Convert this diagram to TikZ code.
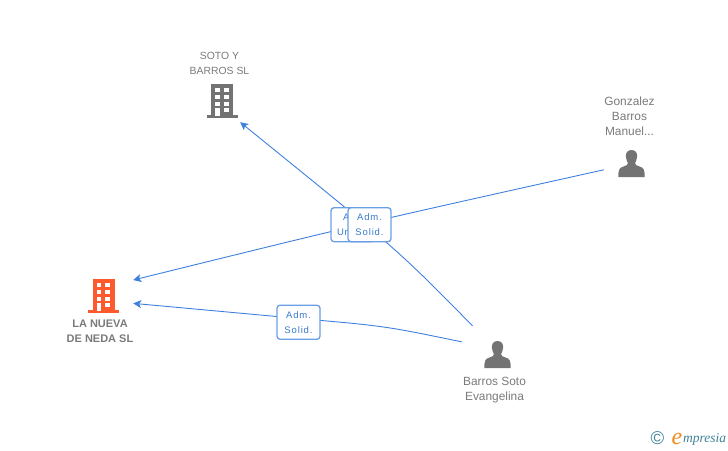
\documentclass[tikz,border=0pt]{standalone}
\usepackage{fontspec}
\setmainfont{Liberation Sans}
\newfontfamily\logofont{Liberation Serif}
\usetikzlibrary{arrows.meta}
\definecolor{linkblue}{HTML}{3F80DE}
\definecolor{boxblue}{HTML}{6A9FE6}
\definecolor{labelblue}{HTML}{3A78CC}
\definecolor{icongray}{HTML}{737373}
\definecolor{namegray}{HTML}{7A7A7A}
\definecolor{firmorange}{HTML}{FF5A2D}
\definecolor{logoteal}{HTML}{3F8299}
\definecolor{logoorange}{HTML}{F08A1D}
\tikzset{
  linkline/.style={draw=linkblue,line width=0.9pt},
  linkarrow/.style={linkline,-{Stealth[length=8pt,width=8pt,inset=2pt]}},
  rolebox/.style={draw=boxblue,line width=1.3pt,rounded corners=3pt,fill=white,
    minimum width=43pt,minimum height=34pt,inner sep=0pt,align=center,text=labelblue,
    font=\fontsize{9.5}{15}\selectfont\addfontfeature{LetterSpace=9}},
  firmname/.style={text=namegray,align=center,inner sep=0pt,font=\fontsize{10.4}{15}\selectfont},
  mainname/.style={firmname,font=\fontsize{11}{15}\selectfont\bfseries},
  personname/.style={firmname,font=\fontsize{11.9}{15}\selectfont},
  iconbox/.style={inner sep=0pt,minimum width=#1},
}
% building icon: centre x, top y, colour
\newcommand\DrawBuilding[3]{
  \begin{scope}[shift={(#1,#2)}]
    \fill[#3] (-11,0) rectangle (11,31);
    \fill[#3] (-15.5,31) rectangle (15.5,33.5);
    \foreach \wy in {4.3,11,17.7,24.3}{
      \fill[white] (1.5,\wy) rectangle (6.5,\wy+4);
    }
    \foreach \wy in {4.3,11,17.7}{
      \fill[white] (-7,\wy) rectangle (-2.5,\wy+4);
    }
    \fill[white] (-7,24.3) rectangle (-2.5,32);
  \end{scope}
}
% person icon: centre x, top y
\newcommand\DrawPerson[2]{
  \begin{scope}[shift={(#1,#2)}]
    \fill[icongray] (0,0) .. controls (4,0) and (6,3) .. (5.6,7)
      .. controls (5.3,10) and (4,12) .. (3.6,13) .. controls (3.6,15) and (5,15.5) .. (8,16.5)
      .. controls (12,17.8) and (13.2,19) .. (13.2,27) -- (-13.2,27)
      .. controls (-13.2,19) and (-12,17.8) .. (-8,16.5) .. controls (-5,15.5) and (-3.6,15) .. (-3.6,13)
      .. controls (-4,12) and (-5.3,10) .. (-5.6,7) .. controls (-6,3) and (-4,0) .. (0,0) -- cycle;
  \end{scope}
}
\begin{document}
\begin{tikzpicture}[x=1pt,y=-1pt]
\useasboundingbox (0,0) rectangle (728,450);

%% icons
\DrawBuilding{222}{84}{icongray}
\DrawBuilding{103.5}{279}{firmorange}
\DrawPerson{631.5}{150}
\DrawPerson{497.5}{341}

%% nodes round the icons, the links stop at their borders
\node[iconbox=36pt,minimum height=44pt] (soto) at (222,100) {};
\node[iconbox=62pt,minimum height=40pt] (nueva) at (102,292) {};
\node[iconbox=54pt,minimum height=30pt] (gonzalez) at (631,163) {};
\node[iconbox=70pt,minimum height=56pt] (barros) at (497,354) {};

%% names
\node[firmname] (sotoname) at (219.5,63) {SOTO Y\\BARROS SL};
\node[mainname] (nuevaname) at (100,331.5) {LA NUEVA\\DE NEDA SL};
\node[personname] (gonzalezname) at (629.5,116) {Gonzalez\\Barros\\Manuel...};
\node[personname] (barrosname) at (494.5,390) {Barros Soto\\Evangelina};

%% links first, the role boxes lie on them
\coordinate (lowerlink) at (298.5,318.5);
\draw[linkarrow] (barros.131) .. controls (398,250) .. (soto.south east);
\draw[linkarrow] (gonzalez.194) .. controls (360,224) .. (nueva.21);
\draw[linkarrow] (barros.161) .. controls (385,326) .. (lowerlink) -- (nueva.-20);
\node[rolebox,align=left,text width=31pt] (admunique) at (352.5,224.7) {\hspace*{6pt}A\\Un};
\node[rolebox] (admsolid) at (369.5,224.7) {Adm.\\Solid.};
\node[rolebox] (admlower) at (298.5,322.2) {Adm.\\Solid.};

%% logo
\node[text=logoteal,inner sep=0pt,font=\fontsize{18.5}{18.5}\selectfont] (copysign) at (657.5,438.5) {\textcopyright};
\node[text=logoorange,inner sep=0pt,font=\logofont\itshape\fontsize{24}{24}\selectfont] (logoe) at (677,438.5) {e};
\node[text=logoteal,inner sep=0pt,anchor=west,font=\logofont\itshape\fontsize{13.5}{15}\selectfont] (logotext) at (683,439) {mpresia};

\end{tikzpicture}
\end{document}
